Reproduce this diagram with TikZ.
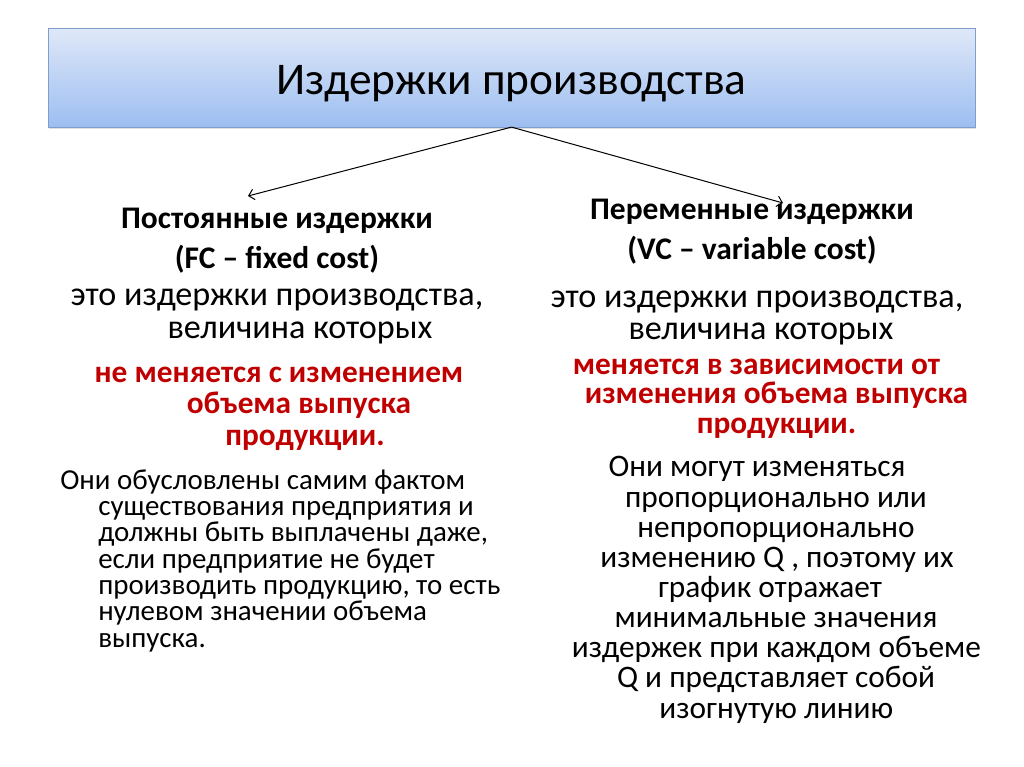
\documentclass[tikz,border=0pt]{standalone}
\usepackage{fontspec}
\setmainfont{Carlito}
\usetikzlibrary{shadows,arrows.meta}
\definecolor{boxtop}{RGB}{223,232,248}
\definecolor{boxbot}{RGB}{157,190,241}
\definecolor{boxline}{RGB}{128,158,202}
\definecolor{costred}{RGB}{192,0,0}
\begin{document}
\begin{tikzpicture}[x=0.75pt,y=-0.75pt,>={Straight Barb[length=4pt,width=8pt]},
	every node/.style={inner sep=0pt},
	topbox/.style={draw=boxline,top color=boxtop,bottom color=boxbot,
		minimum width=695pt,minimum height=74pt,text height=24.8pt,text depth=0pt,
		drop shadow={opacity=0.25,shadow xshift=0.8pt,shadow yshift=-1.5pt},
		font=\fontsize{34}{38}\selectfont},
	head/.style={anchor=base,align=center,font=\bfseries\fontsize{23.6}{29.3}\selectfont},
	defin/.style={anchor=base,align=center,font=\fontsize{25.6}{24.6}\selectfont},
	keyred/.style={anchor=base,align=center,text=costred,font=\bfseries\fontsize{23.5}{23.6}\selectfont},
	note/.style={anchor=base,font=\fontsize{21.7}{19.75}\selectfont}]
	\useasboundingbox (0,0) rectangle (1024,767);
	% top box
	\node [topbox] (title) at (511.5,77.5) {Издержки производства};
	% left column: fixed cost
	\node [head] (fchead) at (277,268) {Постоянные издержки\\(FC – fixed cost)};
	\node [defin] (fcdef) at (277,338) {это издержки производства,\\\hspace*{34.5pt}величина которых};
	\node [keyred] (fckey) at (279,445) {не меняется с изменением\\\hspace*{30pt}объема выпуска\\\hspace*{39pt}продукции.};
	\node [note,align=left,anchor=base west] (fcnote) at (60,647) {Они обусловлены самим фактом\\
		\hspace*{28.5pt}существования предприятия и\\
		\hspace*{28.5pt}должны быть выплачены даже,\\
		\hspace*{28.5pt}если предприятие не будет\\
		\hspace*{28.5pt}производить продукцию, то есть\\
		\hspace*{28.5pt}нулевом значении объема\\
		\hspace*{28.5pt}выпуска.};
	% right column: variable cost
	\node [head] (vchead) at (752,259) {Переменные издержки\\(VC – variable cost)};
	\node [defin,font=\fontsize{25.6}{24}\selectfont] (vcdef) at (757,339) {это издержки производства,\\\hspace*{6pt}величина которых};
	\node [keyred,font=\bfseries\fontsize{23.5}{21.8}\selectfont] (vckey) at (756.5,433) {меняется в зависимости от\\\hspace*{30pt}изменения объема выпуска\\\hspace*{30pt}продукции.};
	\node [note,align=center,font=\fontsize{23.5}{22.6}\selectfont] (vcnote) at (757,718) {Они могут изменяться\\
		\hspace*{28.5pt}пропорционально или\\
		\hspace*{28.5pt}непропорционально\\
		\hspace*{30pt}изменению Q , поэтому их\\
		\hspace*{19.5pt}график отражает\\
		\hspace*{28.5pt}минимальные значения\\
		\hspace*{29pt}издержек при каждом объеме\\
		\hspace*{28.5pt}Q и представляет собой\\
		\hspace*{29pt}изогнутую линию};
	% arrows
	\coordinate (fctip) at (248,196);
	\coordinate (vctip) at (783,203);
	\draw [->,black,line width=0.75pt] (title.south) -- (fctip);
	\draw [->,black,line width=0.75pt] (title.south) -- (vctip);
\end{tikzpicture}
\end{document}
